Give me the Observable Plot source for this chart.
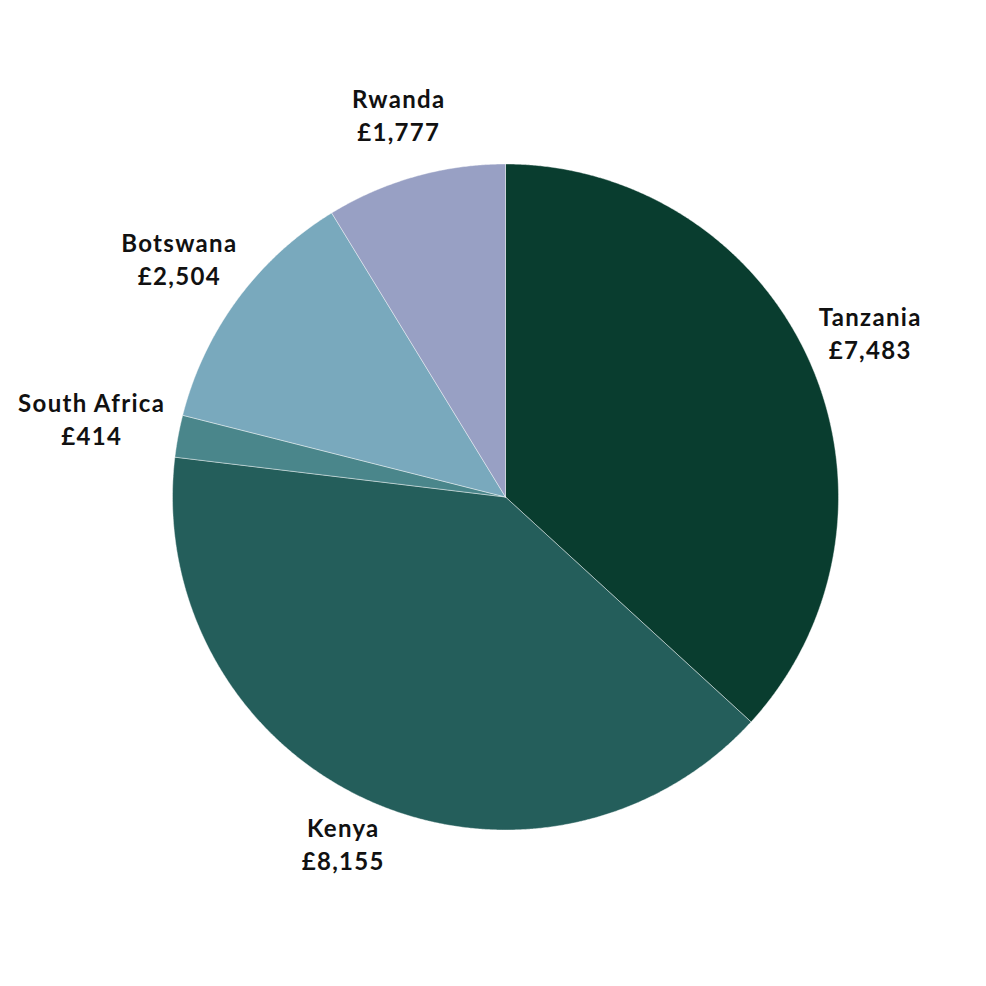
<!DOCTYPE html>
<html>
<head>
<meta charset="utf-8">
<script src="https://cdn.jsdelivr.net/npm/d3@7"></script>
<script src="https://cdn.jsdelivr.net/npm/@observablehq/plot@0.6"></script>
<style>
  html, body { margin: 0; padding: 0; background: #fff; }
  #chart svg { display: block; }
  #chart text { letter-spacing: 1.3px; }
</style>
</head>
<body>
<div id="chart"></div>
<script>
const countries = ["Tanzania", "Kenya", "South Africa", "Botswana", "Rwanda"];
const amounts = [7483, 8155, 414, 2504, 1777];
const colors = ["#093d2f", "#245e5b", "#4a868b", "#79a9bd", "#98a0c4"];

const pie = d3.pie().sort(null).value(d => d)(amounts);

const slicePoints = [];
pie.forEach((p, i) => {
  const name = countries[i];
  slicePoints.push({name, x: 0, y: 0});
  const n = Math.max(4, Math.ceil((p.endAngle - p.startAngle) / 0.005));
  for (let k = 0; k <= n; k++) {
    const a = p.startAngle + (p.endAngle - p.startAngle) * k / n;
    slicePoints.push({name, x: Math.sin(a), y: Math.cos(a)});
  }
  slicePoints.push({name, x: 0, y: 0});
});

const cx = 505, cy = 496.5, R = 333;
const fontSize = 24, lineGap = 33, spacing = 1.3;
const ctx = document.createElement("canvas").getContext("2d");
ctx.font = `700 ${fontSize}px Lato`;
const textWidth = s => ctx.measureText(s).width + spacing * s.length;

const fmt = d3.format(",");
const labels = pie.map((p, i) => {
  const a = (p.startAngle + p.endAngle) / 2;
  const l1 = countries[i], l2 = `£${fmt(amounts[i])}`;
  const w = Math.max(textWidth(l1), textWidth(l2));
  const h = lineGap + fontSize + 28;
  const D = R + 14;
  const px = Math.sin(a) * D + Math.sin(a) * w / 2;
  const py = Math.cos(a) * D + Math.cos(a) * h / 2 + 8;
  return {text: `${l1}\n${l2}`, x: px / R, y: py / R};
});

const chart = Plot.plot({
  width: 986,
  height: 986,
  margin: 0,
  x: {domain: [-1, 1], range: [cx - R, cx + R], axis: null},
  y: {domain: [-1, 1], range: [cy + R, cy - R], axis: null},
  color: {domain: countries, range: colors},
  style: {fontFamily: "Lato, sans-serif", background: "#fff"},
  marks: [
    Plot.line(slicePoints, {x: "x", y: "y", z: "name", fill: "name", stroke: "#ffffff", strokeWidth: 0.6, strokeOpacity: 0.7, curve: "linear"}),
    Plot.text(labels, {x: "x", y: "y", text: "text", fontSize: fontSize, fontWeight: 700, fill: "#111111", lineHeight: lineGap / fontSize, textAnchor: "middle"})
  ]
});
document.getElementById("chart").append(chart);
</script>
</body>
</html>
